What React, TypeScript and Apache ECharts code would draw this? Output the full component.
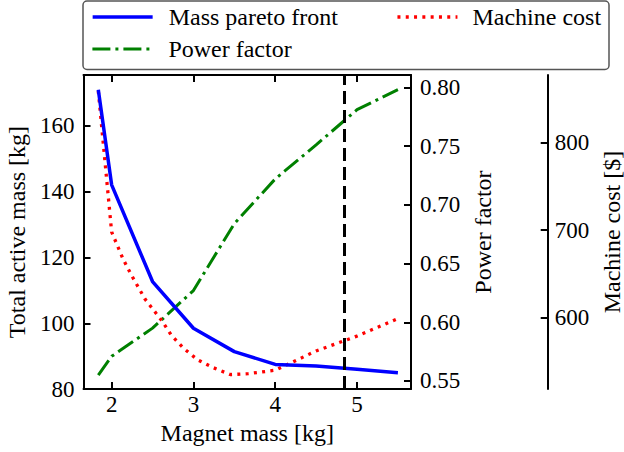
import React, { useEffect, useRef } from 'react';
import * as echarts from 'echarts';

// ---- data ----
const magnetMass = [1.837, 2.0, 2.5, 3.0, 3.5, 4.0, 4.5, 5.0, 5.5];
const totalActiveMass = [171.0, 142.1, 112.7, 98.5, 91.4, 87.5, 87.0, 86.0, 85.0];
const powerFactor = [0.555, 0.571, 0.595, 0.627, 0.684, 0.722, 0.751, 0.781, 0.798];
const costMagnetMass = [1.837, 2.0, 2.14, 2.24, 2.41, 2.61, 2.73, 2.88, 3.05, 3.24, 3.45, 3.67, 4.0, 4.5, 5.0, 5.5];
const machineCost = [859, 698, 667, 649, 621, 597, 580, 565, 552, 543, 535, 536, 540, 562, 579, 599];
const selectedMagnetMass = 4.84;

const xTicks = [2, 3, 4, 5];
const massTicks = [80, 100, 120, 140, 160];
const pfTicks = [0.55, 0.6, 0.65, 0.7, 0.75, 0.8];
const costTicks = [600, 700, 800];

const seriesNames = ['Mass pareto front', 'Power factor', 'Machine cost'];

const FONT = 'Liberation Serif';

export default function App() {
  const ref = useRef<HTMLDivElement>(null);

  useEffect(() => {
    const chart = echarts.init(ref.current as HTMLDivElement, null, { renderer: 'svg' });

    const axisLine = { show: true, lineStyle: { color: '#000', width: 2 } };
    const tickLabel = { color: '#000', fontFamily: FONT, fontSize: 23 };
    const nameStyle = { color: '#000', fontFamily: FONT, fontSize: 24 };
    const tickStyle = { color: '#000', width: 2 };

    const legendBase = {
      orient: 'horizontal' as const,
      padding: 0,
      itemWidth: 60,
      itemHeight: 14,
      selectedMode: false,
      itemStyle: { opacity: 0, color: 'transparent', borderWidth: 0 },
      textStyle: { color: '#000', fontFamily: FONT, fontSize: 24, lineHeight: 26, padding: [0, 0, 0, 11] },
    };

    const option: any = {
      animation: false,
      backgroundColor: '#fff',
      grid: { left: 83.5, right: 213, top: 75, bottom: 62.9, containLabel: false, outerBoundsMode: 'none' },
      graphic: [
        {
          type: 'rect',
          z: -1,
          shape: { x: 83, y: 1, width: 526, height: 68.5, r: 4 },
          style: { fill: '#fff', stroke: '#555', lineWidth: 1.5 },
        },
      ],
      legend: [
        { ...legendBase, left: 90.9, top: 4, lineStyle: { width: 3.5 }, data: [seriesNames[0]] },
        { ...legendBase, left: 90.9, top: 36, lineStyle: { width: 3 }, data: [seriesNames[1]] },
        {
          ...legendBase,
          left: 395.8,
          top: 4,
          lineStyle: { width: 3.3 },
          textStyle: { ...legendBase.textStyle, padding: [0, 0, 0, 10] },
          data: [seriesNames[2]],
        },
      ],
      xAxis: [
        {
          type: 'value',
          min: 1.656,
          max: 5.66,
          position: 'bottom',
          name: 'Magnet mass [kg]',
          nameLocation: 'middle',
          nameGap: 32,
          nameTextStyle: nameStyle,
          axisLine,
          axisTick: { show: true, inside: true, length: 7, lineStyle: tickStyle, customValues: xTicks },
          axisLabel: { ...tickLabel, margin: 4, customValues: xTicks },
          splitLine: { show: false },
        },
        {
          type: 'value',
          min: 1.656,
          max: 5.66,
          position: 'top',
          axisLine,
          axisTick: { show: true, inside: true, length: 7, lineStyle: tickStyle, customValues: xTicks },
          axisLabel: { show: false },
          splitLine: { show: false },
        },
      ],
      yAxis: [
        {
          type: 'value',
          min: 80,
          max: 175.5,
          position: 'left',
          name: 'Total active mass [kg]',
          nameLocation: 'middle',
          nameRotate: 90,
          nameGap: 53,
          nameTextStyle: nameStyle,
          axisLine,
          axisTick: { show: true, inside: true, length: 7, lineStyle: tickStyle, customValues: massTicks },
          axisLabel: { ...tickLabel, margin: 9, customValues: massTicks },
          splitLine: { show: false },
        },
        {
          type: 'value',
          min: 0.5431,
          max: 0.8105,
          position: 'right',
          offset: 0,
          name: 'Power factor',
          nameLocation: 'middle',
          nameRotate: 90,
          nameGap: 50,
          nameTextStyle: nameStyle,
          axisLine,
          axisTick: { show: true, inside: true, length: 7, lineStyle: tickStyle, customValues: pfTicks },
          axisLabel: { ...tickLabel, margin: 9, customValues: pfTicks, formatter: (v: number) => v.toFixed(2) },
          splitLine: { show: false },
        },
        {
          type: 'value',
          min: 518.4,
          max: 877.4,
          position: 'right',
          offset: 136.7,
          name: 'Machine cost [$]',
          nameLocation: 'middle',
          nameRotate: 90,
          nameGap: 37,
          nameTextStyle: nameStyle,
          axisLine,
          axisTick: { show: true, inside: true, length: 7, lineStyle: tickStyle, customValues: costTicks },
          axisLabel: { ...tickLabel, margin: 7, customValues: costTicks },
          splitLine: { show: false },
        },
      ],
      series: [
        {
          name: seriesNames[0],
          type: 'line',
          xAxisIndex: 0,
          yAxisIndex: 0,
          symbol: 'none',
          data: magnetMass.map((x, i) => [x, totalActiveMass[i]]),
          lineStyle: { color: '#0000ff', width: 3.5 },
          itemStyle: { color: '#0000ff' },
          z: 3,
          markLine: {
            silent: true,
            symbol: 'none',
            label: { show: false },
            lineStyle: { color: '#000', width: 3, type: [13, 6] },
            data: [{ xAxis: selectedMagnetMass }],
          },
        },
        {
          name: seriesNames[1],
          type: 'line',
          xAxisIndex: 0,
          yAxisIndex: 1,
          symbol: 'none',
          data: magnetMass.map((x, i) => [x, powerFactor[i]]),
          lineStyle: { color: '#008000', width: 3, type: [18, 5, 3, 5] },
          itemStyle: { color: '#008000' },
          z: 2,
        },
        {
          name: seriesNames[2],
          type: 'line',
          xAxisIndex: 0,
          yAxisIndex: 2,
          symbol: 'none',
          data: costMagnetMass.map((x, i) => [x, machineCost[i]]),
          lineStyle: { color: '#ff0000', width: 3.3, type: [3, 5.3], cap: 'butt' },
          itemStyle: { color: '#ff0000' },
          z: 2,
        },
      ],
    };

    chart.setOption(option);
    return () => chart.dispose();
  }, []);

  return (
    <div
      ref={ref}
      style={{ position: 'absolute', left: 0, top: 0, width: 624, height: 452, background: '#fff' }}
    />
  );
}
